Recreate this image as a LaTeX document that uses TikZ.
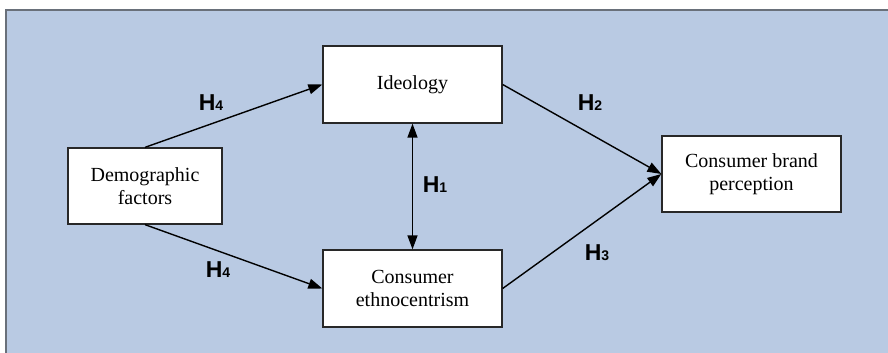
\documentclass[tikz,border=0pt]{standalone}
\usepackage{fontspec}
\setmainfont{Liberation Serif}
\newfontfamily\hypfont{Liberation Sans}
\usetikzlibrary{arrows.meta}
\definecolor{panelblue}{RGB}{185,202,227}
\definecolor{frameline}{RGB}{105,112,122}
\definecolor{boxline}{RGB}{40,40,40}
\tikzset{
  factor/.style={draw=boxline, line width=1.3pt, fill=white, align=center,
    inner sep=0pt, font=\fontsize{20}{23}\selectfont},
  link/.style={line width=1.4pt, -{Triangle[length=14pt,width=10pt]}},
  biglink/.style={line width=1.4pt, {Triangle[length=14pt,width=10pt]}-{Triangle[length=14pt,width=10pt]}},
  hyp/.style={font=\hypfont\bfseries\fontsize{23}{23}\selectfont, inner sep=0pt}
}
\newcommand{\hyplabel}[1]{H{\fontsize{14}{14}\selectfont #1}}
\begin{document}
\begin{tikzpicture}[x=1pt,y=-1pt]
  \useasboundingbox (0,0) rectangle (888,353);
  % panel background and its frame
  \fill[white] (0,0) rectangle (888,353);
  \fill[panelblue] (6,10) rectangle (888,353);
  \draw[frameline, line width=1.6pt] (6,353) -- (6,10) -- (888,10);

  % factors
  \node[factor, minimum width=154pt, minimum height=76pt] (demo) at (145,186) {Demographic\\factors};
  \node[factor, minimum width=179pt, minimum height=77pt] (ideo) at (412.5,84.5) {Ideology};
  \node[factor, minimum width=179pt, minimum height=77pt] (ethno) at (412.5,288.5) {Consumer\\ethnocentrism};
  \node[factor, minimum width=179pt, minimum height=76pt] (brand) at (751.5,174) {Consumer brand\\perception};

  % hypothesised paths
  \draw[link] (demo.north) -- (ideo.west);
  \draw[link] (demo.south) -- (ethno.west);
  \draw[link] (ideo.east) -- (brand.west);
  \draw[link] (ethno.east) -- (brand.west);
  \draw[biglink] (ideo.south) -- (ethno.north);

  % hypothesis labels
  \node[hyp] (h4a) at (211,103) {\hyplabel{4}};
  \node[hyp] (h4b) at (218,270) {\hyplabel{4}};
  \node[hyp] (h1) at (435,185) {\hyplabel{1}};
  \node[hyp] (h2) at (590,103) {\hyplabel{2}};
  \node[hyp] (h3) at (597,253) {\hyplabel{3}};
\end{tikzpicture}
\end{document}
